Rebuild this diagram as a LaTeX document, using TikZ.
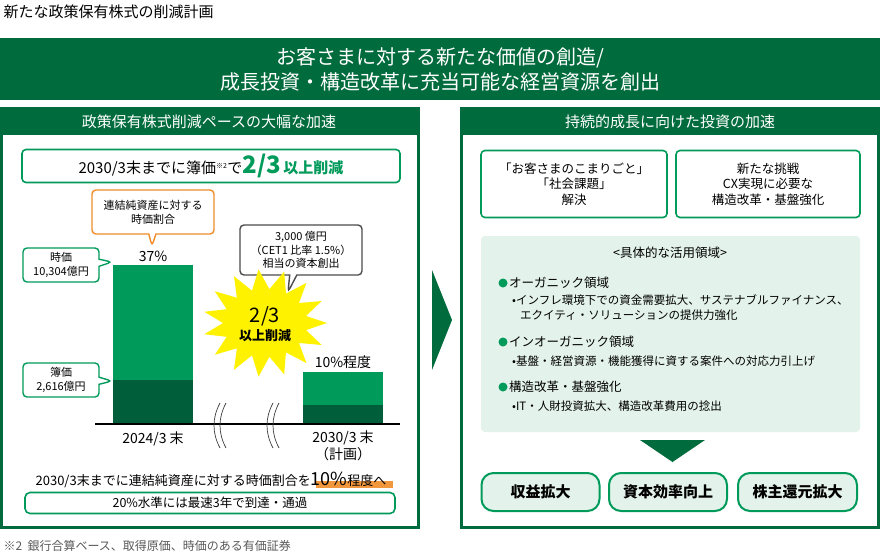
\documentclass[tikz,border=0pt]{standalone}
\usepackage{fontspec}
\setmainfont{Noto Sans CJK JP}
\usetikzlibrary{shapes.callouts}
\definecolor{dg}{HTML}{006B3C}
\definecolor{lg}{HTML}{009A5B}
\definecolor{bd}{HTML}{005E3A}
\definecolor{pale}{HTML}{E3F2EA}
\definecolor{og}{HTML}{F08C28}
\begin{document}
\begin{tikzpicture}[x=1pt,y=-1pt,
  fs/.style={font=\fontsize{#1pt}{\dimexpr #1pt*5/4\relax}\selectfont},
  fsb/.style={font=\bfseries\fontsize{#1pt}{\dimexpr #1pt*5/4\relax}\selectfont},
  gbox/.style={draw=lg,line width=1.6pt,rounded corners=4pt,fill=white},
  hdr/.style={fill=dg,text=white,fs=15,anchor=center},
  pill/.style={draw=lg,line width=2pt,rounded corners=12pt,fill=pale,fsb=15},
  call/.style={rectangle callout,rounded corners=4pt,line width=1.4pt,fill=white,align=center,fs=11,inner sep=3pt}]
\useasboundingbox (0,0) rectangle (880,555);
\node[anchor=west,fs=15] (title) at (0,12) {新たな政策保有株式の削減計画};
\node[fill=dg,minimum width=880,minimum height=62,inner sep=0,text=white,align=center,fs=20] (ban) at (440,69) {お客さまに対する新たな価値の創造/\\成長投資・構造改革に充当可能な経営資源を創出};
% panels
\draw[dg,line width=3pt] (1.5,108) rectangle (418,527);
\draw[dg,line width=3pt] (461,108) rectangle (878.5,527);
\node[hdr,minimum width=418,minimum height=27,inner sep=0] (lh) at (209,121.5) {政策保有株式削減ペースの大幅な加速};
\node[hdr,minimum width=419,minimum height=27,inner sep=0] (rh) at (670,121.5) {持続的成長に向けた投資の加速};
\fill[dg] (432,270) -- (452,320) -- (432,370) -- cycle;
% left
\node[gbox,minimum width=378,minimum height=33,fs=15] (goal) at (211,166) {2030/3末までに簿価\textsuperscript{\fontsize{7pt}{8pt}\selectfont ※2}で\textcolor{lg}{\fontsize{24pt}{24pt}\selectfont\bfseries 2/3}\,\textcolor{lg}{\bfseries 以上削減}};
\node[call,draw=og,minimum width=122,minimum height=44,callout absolute pointer={(152,246)}] (oc) at (153,212) {連結純資産に対する\\時価割合};
\node[fs=14] (p37) at (153,256) {37\%};
\fill[lg] (113,265) rectangle (193,380);
\fill[bd] (113,380) rectangle (193,423);
\fill[lg] (303,372) rectangle (383,405);
\fill[bd] (303,405) rectangle (383,423);
\node[call,draw=lg,minimum width=76,minimum height=34,callout absolute pointer={(112,262)}] (c1) at (61,265) {時価\\10,304億円};
\node[call,draw=lg,minimum width=76,minimum height=34,callout absolute pointer={(112,381)}] (c2) at (61,380) {簿価\\2,616億円};
\node[call,draw=black!70,minimum width=122,minimum height=50,callout absolute pointer={(288,292)}] (gc) at (301,250) {3,000 億円\\（CET1 比率 1.5\%）\\相当の資本創出};
\fill[yellow] plot[samples at={0,...,29},variable=\i] ({265+(mod(\i,2)==0?62:42)*cos(\i*12)},{323+(mod(\i,2)==0?54:34)*sin(\i*12)}) -- cycle;
\node[fs=20] (sb1) at (265,316) {2/3};
\node[fsb=13] (sb2) at (265,336) {以上削減};
\node[fs=14] (p10) at (343,362) {10\%程度};
\draw[line width=1.4pt] (95,424) -- (400,424);
\foreach \x in {220,226,273,279}{\draw[black!75,line width=0.7pt] (\x,403) .. controls (\x-8,418) and (\x-8,433) .. (\x,448);}
\node[fs=14] (d1) at (153,439) {2024/3 末};
\node[fs=14,align=center] (d2) at (343,446) {2030/3 末\\（計画）};
\fill[og!90] (316,481) rectangle (393,488);
\node[fs=13,inner sep=0] (t1) at (211,480) {2030/3末までに連結純資産に対する時価割合を{\fontsize{18pt}{18pt}\selectfont 10\%}程度へ};
\node[gbox,minimum width=370,minimum height=21,fs=12.5,rounded corners=5pt] (t2) at (210,503) {20\%水準には最速3年で到達・通過};
\node[anchor=west,fs=12,text=black!65] (fn) at (0,546) {※2\ \ 銀行合算ベース、取得原価、時価のある有価証券};
% right
\node[gbox,minimum width=186,minimum height=67,align=center,fs=12.5] (b1) at (574,184) {「お客さまのこまりごと」\\「社会課題」\\解決};
\node[gbox,minimum width=184,minimum height=67,align=center,fs=12.5] (b2) at (768,184) {新たな挑戦\\CX実現に必要な\\構造改革・基盤強化};
\node[fill=pale,rounded corners=4pt,minimum width=379,minimum height=196,inner sep=0] (pb) at (670.5,334) {};
\node[fs=12.5] (lt) at (670,253) {<具体的な活用領域>};
\begin{scope}[every node/.style={anchor=west,inner sep=0}]
\foreach \y/\t in {283/オーガニック領域,342/インオーガニック領域,387/構造改革・基盤強化}{
 \fill[lg] (503,\y) circle (4.5);
 \node[fs=12.5] at (509,\y) {\t};}
\node[fs=11.5] at (512,300) {•インフレ環境下での資金需要拡大、サステナブルファイナンス、};
\node[fs=11.5] at (520,315) {エクイティ・ソリューションの提供力強化};
\node[fs=11.5] at (512,361) {•基盤・経営資源・機能獲得に資する案件への対応力引上げ};
\node[fs=11.5] at (512,406) {•IT・人財投資拡大、構造改革費用の捻出};
\end{scope}
\fill[dg] (640,440) -- (705,440) -- (672.5,462) -- cycle;
\node[pill,minimum width=118,minimum height=38] (q1) at (540.5,492) {収益拡大};
\node[pill,minimum width=118,minimum height=38] (q2) at (668,492) {資本効率向上};
\node[pill,minimum width=119,minimum height=38] (q3) at (797.5,492) {株主還元拡大};
\end{tikzpicture}
\end{document}
